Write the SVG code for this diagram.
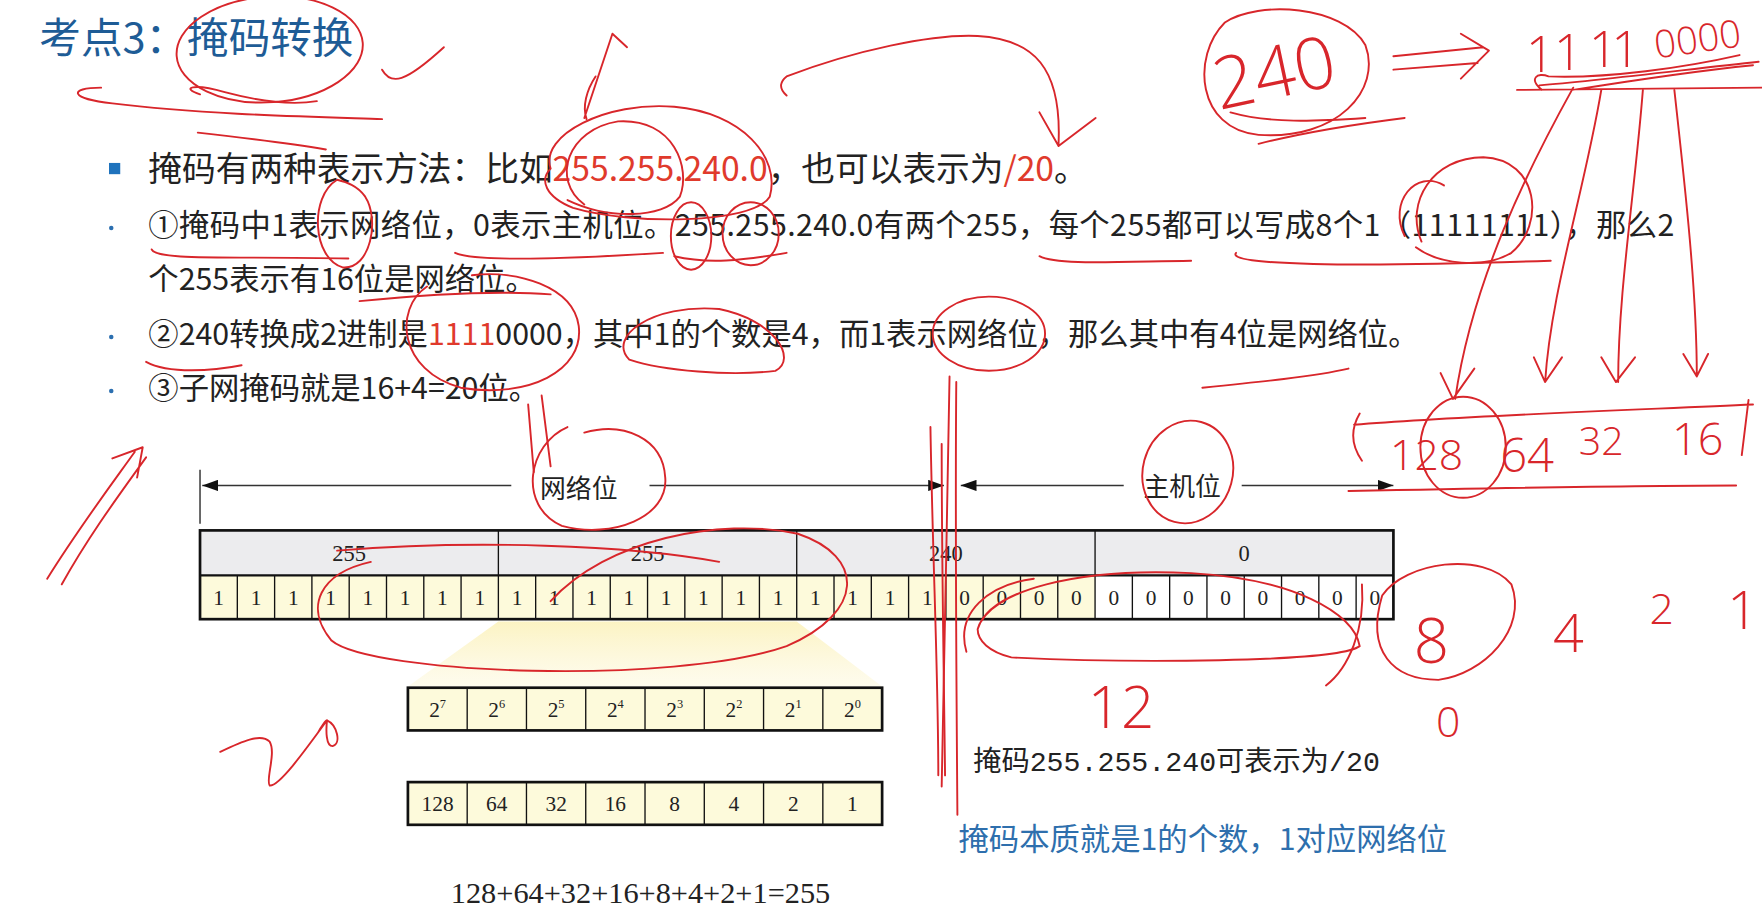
<svg xmlns="http://www.w3.org/2000/svg" width="1762" height="922" viewBox="0 0 1762 922">
<defs>
<style>
.cjk{font-family:"Noto Sans CJK SC","Noto Sans",sans-serif;}
.t1{font-size:30px;fill:#222;}
.t2{font-size:27px;fill:#222;}
.red{fill:#e03a2c;}
.ser{font-family:"Liberation Serif","Noto Sans CJK SC",serif;fill:#222;}
.cell{stroke:#111;stroke-width:1.2;}
.frame{fill:none;stroke:#111;stroke-width:2.4;}
.dim{stroke:#333;stroke-width:1.3;fill:none;}
.ink{fill:none;stroke:#d8262b;stroke-width:1.7;stroke-linecap:round;stroke-linejoin:round;}
.hw{font-family:"Open Sans","Liberation Sans",sans-serif;font-weight:300;fill:#d8262b;}
</style>
<marker id="ah" markerWidth="14" markerHeight="10" refX="14" refY="5" orient="auto-start-reverse" markerUnits="userSpaceOnUse"><path d="M0,0 L14,5 L0,10 Z" fill="#111"/></marker>
<linearGradient id="fan" x1="0" y1="0" x2="0" y2="1"><stop offset="0" stop-color="#fbf1b8" stop-opacity="0.85"/><stop offset="1" stop-color="#fdf8dc" stop-opacity="0.5"/></linearGradient>
</defs>
<rect width="1762" height="922" fill="#fff"/>
<g transform="scale(1.12372)">

<g id="title"><text class="cjk" x="35" y="47" font-size="37" fill="#1e5c96">考点3：掩码转换</text></g>

<g id="bullets">
<rect x="97" y="145" width="10" height="10" fill="#1f73bd"/>
<text class="cjk t1" x="132" y="161" textLength="836">掩码有两种表示方法：比如<tspan class="red">255.255.240.0</tspan>，也可以表示为<tspan class="red">/20</tspan>。</text>
<circle cx="99" cy="203" r="2" fill="#2b6fb0"/>
<text class="cjk t2" x="132" y="210" textLength="1358">①掩码中1表示网络位，0表示主机位。255.255.240.0有两个255，每个255都可以写成8个1（11111111），那么2</text>
<text class="cjk t2" x="132" y="258">个255表示有16位是网络位。</text>
<circle cx="99" cy="300" r="2" fill="#2b6fb0"/>
<text class="cjk t2" x="132" y="307">②240转换成2进制是<tspan class="red">1111</tspan>0000，其中1的个数是4，而1表示网络位，那么其中有4位是网络位。</text>
<circle cx="99" cy="348" r="2" fill="#2b6fb0"/>
<text class="cjk t2" x="132" y="355">③子网掩码就是16+4=20位。</text>
</g>

<g id="connectors">
<line class="dim" x1="178" y1="418" x2="178" y2="466" stroke-width="2"/>
<line class="dim" x1="180" y1="432" x2="455" y2="432" marker-start="url(#ah)"/>
<line class="dim" x1="578" y1="432" x2="840" y2="432" marker-end="url(#ah)"/>
<line class="dim" x1="855" y1="432" x2="1000" y2="432" marker-start="url(#ah)"/>
<line class="dim" x1="1105" y1="432" x2="1240" y2="432" marker-end="url(#ah)"/>
</g>
<g id="label-net"><text class="cjk" x="515" y="443" font-size="23" fill="#222" text-anchor="middle">网络位</text></g>
<g id="label-host"><text class="cjk" x="1052" y="441" font-size="23" fill="#222" text-anchor="middle">主机位</text></g>

<g id="mask-table">
<rect x="178" y="472" width="1062" height="40" fill="#ececee"/>
<rect x="178" y="512" width="796.5" height="39" fill="#fdfadb"/>
<rect x="974.5" y="512" width="265.5" height="39" fill="#fff"/>
<g class="cell">
<line x1="443.5" y1="472" x2="443.5" y2="512"/><line x1="709" y1="472" x2="709" y2="512"/><line x1="974.5" y1="472" x2="974.5" y2="512"/>
<line x1="211.19" y1="512" x2="211.19" y2="551"/><line x1="244.38" y1="512" x2="244.38" y2="551"/><line x1="277.56" y1="512" x2="277.56" y2="551"/><line x1="310.75" y1="512" x2="310.75" y2="551"/><line x1="343.94" y1="512" x2="343.94" y2="551"/><line x1="377.13" y1="512" x2="377.13" y2="551"/><line x1="410.31" y1="512" x2="410.31" y2="551"/><line x1="443.5" y1="512" x2="443.5" y2="551"/>
<line x1="476.69" y1="512" x2="476.69" y2="551"/><line x1="509.88" y1="512" x2="509.88" y2="551"/><line x1="543.06" y1="512" x2="543.06" y2="551"/><line x1="576.25" y1="512" x2="576.25" y2="551"/><line x1="609.44" y1="512" x2="609.44" y2="551"/><line x1="642.63" y1="512" x2="642.63" y2="551"/><line x1="675.81" y1="512" x2="675.81" y2="551"/><line x1="709" y1="512" x2="709" y2="551"/>
<line x1="742.19" y1="512" x2="742.19" y2="551"/><line x1="775.38" y1="512" x2="775.38" y2="551"/><line x1="808.56" y1="512" x2="808.56" y2="551"/><line x1="841.75" y1="512" x2="841.75" y2="551"/><line x1="874.94" y1="512" x2="874.94" y2="551"/><line x1="908.13" y1="512" x2="908.13" y2="551"/><line x1="941.31" y1="512" x2="941.31" y2="551"/><line x1="974.5" y1="512" x2="974.5" y2="551"/>
<line x1="1007.69" y1="512" x2="1007.69" y2="551"/><line x1="1040.88" y1="512" x2="1040.88" y2="551"/><line x1="1074.06" y1="512" x2="1074.06" y2="551"/><line x1="1107.25" y1="512" x2="1107.25" y2="551"/><line x1="1140.44" y1="512" x2="1140.44" y2="551"/><line x1="1173.63" y1="512" x2="1173.63" y2="551"/><line x1="1206.81" y1="512" x2="1206.81" y2="551"/>
</g>
<line x1="178" y1="512" x2="1240" y2="512" stroke="#111" stroke-width="2"/>
<rect class="frame" x="178" y="472" width="1062" height="79"/>
<g class="ser" font-size="20" text-anchor="middle">
<text x="310.75" y="499">255</text><text x="576.25" y="499">255</text><text x="841.75" y="499">240</text><text x="1107.25" y="499">0</text>
</g>
<g class="ser" font-size="19" text-anchor="middle">
<text x="194.6" y="538">1</text><text x="227.8" y="538">1</text><text x="261" y="538">1</text><text x="294.2" y="538">1</text><text x="327.3" y="538">1</text><text x="360.5" y="538">1</text><text x="393.7" y="538">1</text><text x="426.9" y="538">1</text>
<text x="460.1" y="538">1</text><text x="493.3" y="538">1</text><text x="526.5" y="538">1</text><text x="559.7" y="538">1</text><text x="592.8" y="538">1</text><text x="626" y="538">1</text><text x="659.2" y="538">1</text><text x="692.4" y="538">1</text>
<text x="725.6" y="538">1</text><text x="758.8" y="538">1</text><text x="792" y="538">1</text><text x="825.2" y="538">1</text><text x="858.3" y="538">0</text><text x="891.5" y="538">0</text><text x="924.7" y="538">0</text><text x="957.9" y="538">0</text>
<text x="991.1" y="538">0</text><text x="1024.3" y="538">0</text><text x="1057.5" y="538">0</text><text x="1090.7" y="538">0</text><text x="1123.8" y="538">0</text><text x="1157" y="538">0</text><text x="1190.2" y="538">0</text><text x="1223.4" y="538">0</text>
</g>
</g>

<g id="fan"><polygon points="443.5,553 709,553 785,611 363,611" fill="url(#fan)"/></g>

<g id="power-table">
<rect x="363" y="612" width="422" height="38" fill="#fdfadb"/>
<g class="cell">
<line x1="415.75" y1="612" x2="415.75" y2="650"/><line x1="468.5" y1="612" x2="468.5" y2="650"/><line x1="521.25" y1="612" x2="521.25" y2="650"/><line x1="574" y1="612" x2="574" y2="650"/><line x1="626.75" y1="612" x2="626.75" y2="650"/><line x1="679.5" y1="612" x2="679.5" y2="650"/><line x1="732.25" y1="612" x2="732.25" y2="650"/>
</g>
<rect class="frame" x="363" y="612" width="422" height="38"/>
<g class="ser" font-size="19" text-anchor="middle">
<text x="389.4" y="638">2<tspan font-size="11" dy="-8">7</tspan></text>
<text x="442.1" y="638">2<tspan font-size="11" dy="-8">6</tspan></text>
<text x="494.9" y="638">2<tspan font-size="11" dy="-8">5</tspan></text>
<text x="547.6" y="638">2<tspan font-size="11" dy="-8">4</tspan></text>
<text x="600.4" y="638">2<tspan font-size="11" dy="-8">3</tspan></text>
<text x="653.1" y="638">2<tspan font-size="11" dy="-8">2</tspan></text>
<text x="705.9" y="638">2<tspan font-size="11" dy="-8">1</tspan></text>
<text x="758.6" y="638">2<tspan font-size="11" dy="-8">0</tspan></text>
</g>
</g>

<g id="value-table">
<rect x="363" y="696" width="422" height="38" fill="#fdfadb"/>
<g class="cell">
<line x1="415.75" y1="696" x2="415.75" y2="734"/><line x1="468.5" y1="696" x2="468.5" y2="734"/><line x1="521.25" y1="696" x2="521.25" y2="734"/><line x1="574" y1="696" x2="574" y2="734"/><line x1="626.75" y1="696" x2="626.75" y2="734"/><line x1="679.5" y1="696" x2="679.5" y2="734"/><line x1="732.25" y1="696" x2="732.25" y2="734"/>
</g>
<rect class="frame" x="363" y="696" width="422" height="38"/>
<g class="ser" font-size="19" text-anchor="middle">
<text x="389.4" y="722">128</text><text x="442.1" y="722">64</text><text x="494.9" y="722">32</text><text x="547.6" y="722">16</text><text x="600.4" y="722">8</text><text x="653.1" y="722">4</text><text x="705.9" y="722">2</text><text x="758.6" y="722">1</text>
</g>
</g>

<g id="sum"><text class="ser" x="570" y="804" font-size="27" text-anchor="middle">128+64+32+16+8+4+2+1=255</text></g>
<g id="note-mask"><text x="866" y="686" font-size="25" fill="#222" font-family="Liberation Mono,Noto Sans CJK SC,monospace" textLength="362" lengthAdjust="spacingAndGlyphs">掩码255.255.240可表示为/20</text></g>
<g id="note-blue"><text class="cjk" x="853" y="756" font-size="27" fill="#2e6fad">掩码本质就是1的个数，1对应网络位</text></g>

<g id="annotations">
<ellipse class="ink" cx="240" cy="44" rx="83" ry="47" transform="rotate(-4 240 44)"/>
<path class="ink" d="M178,84 C160,78 172,74 200,82 C230,90 258,94 282,90"/>
<path class="ink" d="M90,78 C60,78 62,88 100,92 C180,102 280,104 340,106"/>
<path class="ink" d="M176,118 C220,123 260,128 290,133"/>
<path class="ink" d="M340,62 C348,76 360,74 395,42"/>
<path class="ink" d="M545,30 L520,105 M545,30 L558,42 M530,68 C522,80 518,95 522,106"/>
<path class="ink" d="M490,150 C480,120 540,90 600,95 C660,100 695,140 685,175 C670,200 560,200 510,185 C485,175 480,160 490,150"/>
<path class="ink" d="M520,182 C490,160 505,115 550,108 C600,105 615,150 605,175 C590,195 540,195 505,178"/>
<path class="ink" d="M700,85 C692,78 695,72 700,68 C760,45 830,30 870,32 C920,35 945,60 942,128 M925,100 L942,130 L975,105"/>
<path class="ink" d="M135,222 C140,232 200,228 310,230"/>
<path class="ink" d="M300,160 C275,175 278,230 305,238 C330,240 338,195 325,175 C318,165 308,162 300,160"/>
<path class="ink" d="M405,225 C420,232 480,232 590,225"/>
<ellipse class="ink" cx="615" cy="210" rx="18" ry="30"/>
<ellipse class="ink" cx="668" cy="208" rx="25" ry="28"/>
<path class="ink" d="M600,228 C630,235 660,232 700,225"/>
<path class="ink" d="M925,228 C940,236 990,233 1060,232"/>
<path class="ink" d="M1100,225 C1090,236 1200,238 1380,232"/>
<path class="ink" d="M1250,210 C1235,180 1260,150 1285,165"/>
<path class="ink" d="M1265,215 C1250,180 1275,140 1320,140 C1370,142 1375,200 1345,225 C1320,240 1280,235 1260,220"/>
<path class="ink" d="M320,268 C380,262 440,258 490,262"/>
<path class="ink" d="M380,255 C350,275 355,330 410,345 C470,355 520,330 515,290 C510,255 460,240 420,245"/>
<path class="ink" d="M130,322 C150,333 190,330 215,325"/>
<path class="ink" d="M560,320 C540,300 580,270 640,275 C690,285 710,320 690,330 C650,335 590,330 560,320"/>
<ellipse class="ink" cx="880" cy="297" rx="50" ry="33"/>
<path class="ink" d="M1070,345 C1120,340 1170,335 1200,328"/>
<path class="ink" d="M470,360 L475,420 M482,352 L490,415"/>
<path class="ink" d="M505,380 C470,395 460,450 500,468 C545,480 595,460 592,425 C590,390 555,375 520,385"/>
<ellipse class="ink" cx="1057" cy="420" rx="40" ry="46" transform="rotate(15 1057 420)"/>
<path class="ink" d="M300,490 C420,480 560,485 640,500"/>
<path class="ink" d="M490,535 C540,480 640,460 710,475 C770,495 770,545 700,575 C600,610 330,600 295,570 C270,540 285,510 330,500"/>
<path class="ink" d="M870,560 C880,525 960,505 1060,510 C1150,515 1205,545 1210,575 C1190,590 1000,590 900,585 C880,580 870,570 870,560"/>
<path class="ink" d="M860,580 C850,545 880,520 920,515"/>
<path class="ink" d="M845,335 C843,450 840,600 838,700 M851,340 C850,450 851,600 852,725 M828,380 C830,500 835,600 835,690"/>
<path class="ink" stroke-width="3.2" d="M838,395 C838,500 840,600 841,690"/>
<path class="ink" d="M1090,20 C1060,50 1065,115 1120,120 C1190,125 1230,80 1215,40 C1195,5 1120,0 1090,20"/>
<path class="ink" d="M1095,100 C1130,110 1170,108 1215,105 M1120,128 C1160,118 1210,110 1250,105"/>
<path class="ink" d="M1240,50 L1320,42 M1240,62 L1315,56 M1300,30 L1325,45 L1300,70"/>
<path class="ink" d="M1372,80 C1360,70 1368,64 1378,68 C1430,70 1500,60 1548,49 M1370,76 C1420,72 1500,62 1565,55 M1400,80 C1450,72 1520,62 1560,58 M1350,80 L1568,78"/>
<path class="ink" d="M1400,78 C1360,150 1310,250 1295,355 M1282,332 L1293,355 L1312,328"/>
<path class="ink" d="M1425,80 C1410,170 1380,260 1375,340 M1365,318 L1375,340 L1390,318"/>
<path class="ink" d="M1462,80 C1455,170 1440,260 1440,340 M1425,318 L1438,340 L1455,318"/>
<path class="ink" d="M1490,80 C1500,170 1510,260 1510,335 M1498,315 L1510,335 L1520,315"/>
<path class="ink" d="M1205,378 C1300,370 1450,365 1560,360 M1210,368 C1200,385 1205,400 1212,410 M1556,356 L1550,405"/>
<ellipse class="ink" cx="1302" cy="398" rx="38" ry="45"/>
<path class="ink" d="M1200,437 C1350,434 1450,432 1545,432"/>
<path class="ink" d="M1230,530 C1250,500 1320,490 1345,520 C1360,560 1320,600 1280,605 C1240,605 1215,580 1230,530"/>
<path class="ink" d="M1180,610 C1200,595 1215,560 1212,520"/>
<path class="ink" d="M42,515 C70,470 100,430 120,402 M55,520 C80,475 110,435 130,407 M100,408 L127,398 L122,425"/>
<path class="ink" d="M196,669 C215,660 232,652 240,660 C246,670 236,695 240,699 C248,700 270,670 291,641 M283,652 C286,646 290,641 291,641 C300,645 304,662 296,664 C290,664 290,650 291,641"/>
<text class="hw" x="1085" y="98" font-size="64" transform="rotate(-12 1085 98)">240</text>
<text class="hw" x="1358 1383 1414 1434" y="64 62 60 60" font-size="44">1111</text>
<text class="hw" x="1474" y="52" font-size="34" transform="rotate(-8 1474 52)">0000</text>
<text class="hw" x="1237" y="418" font-size="38">128</text>
<text class="hw" x="1335" y="420" font-size="42">64</text>
<text class="hw" x="1405" y="405" font-size="35">32</text>
<text class="hw" x="1488" y="405" font-size="40">16</text>
<text class="hw" x="1258" y="590" font-size="55">8</text>
<text class="hw" x="1382" y="580" font-size="48">4</text>
<text class="hw" x="1468" y="555" font-size="38">2</text>
<text class="hw" x="1537" y="560" font-size="48">1</text>
<text class="hw" x="1278" y="656" font-size="38">0</text>
<text class="hw" x="968" y="648" font-size="52">12</text>
</g>

</g>
</svg>
